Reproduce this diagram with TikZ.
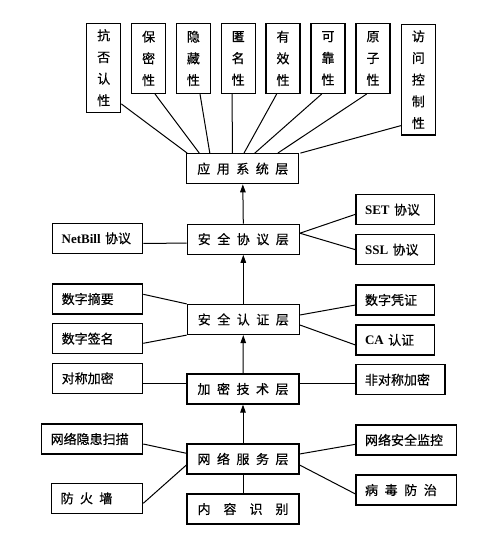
\documentclass[tikz,border=0pt]{standalone}
\usepackage{fontspec}
\setmainfont{Liberation Serif}
\newfontfamily\cjk[FakeBold=0.5]{Noto Sans CJK SC}
\usetikzlibrary{arrows.meta}
\newcommand{\gp}{\hspace{6.5pt}}
\newcommand{\lat}[1]{{\rmfamily\bfseries #1}}
\begin{document}
\begin{tikzpicture}[x=1pt,y=-1pt,
 bx/.style={draw, line width=1.2pt, inner sep=0pt, font=\cjk\fontsize{13}{21.7}\selectfont},
 topbox/.style={bx, minimum width=34pt, align=center},
 layer/.style={bx, minimum width=112pt, minimum height=30pt},
 sbox/.style={bx, minimum height=30pt, inner xsep=9pt, text width=#1, align=left},
 ln/.style={line width=1pt},
 ar/.style={line width=1pt, -{Triangle[length=8pt,width=5.5pt]}}]
\useasboundingbox (0,0) rectangle (500,538);

% top property boxes
\node[topbox, minimum height=89pt]    (t1) at (103.7,67.8) {抗\\否\\认\\性};
\node[topbox, minimum height=70pt]    (t2) at (148.6,58.4) {保\\密\\性};
\node[topbox, minimum height=70pt]    (t3) at (193.4,58.4) {隐\\藏\\性};
\node[topbox, minimum height=70pt]    (t4) at (238.2,58.4) {匿\\名\\性};
\node[topbox, minimum height=70pt]    (t5) at (283,58.4) {有\\效\\性};
\node[topbox, minimum height=70pt]    (t6) at (328,58.4) {可\\靠\\性};
\node[topbox, minimum height=70pt]    (t7) at (373,58.4) {原\\子\\性};
\node[topbox, minimum height=110.7pt] (t8) at (418.4,79.7) {访\\问\\控\\制\\性};

% layers
\node[layer] (app) at (242.8,168.7) {应\gp 用\gp 系\gp 统\gp 层};
\node[layer] (sp)  at (243.3,239.2) {安\gp 全\gp 协\gp 议\gp 层};
\node[layer] (rz)  at (243.3,319.5) {安\gp 全\gp 认\gp 证\gp 层};
\node[layer] (jm)  at (243,389) {加\gp 密\gp 技\gp 术\gp 层};
\node[layer] (wf)  at (243,459) {网\gp 络\gp 服\gp 务\gp 层};
\node[layer] (nr)  at (243,509) {内\hspace{13pt}容\hspace{13pt}识\hspace{13pt}别};

% left boxes
\node[sbox=72pt] (nb)  at (97.7,238.3) {\lat{NetBill} 协议};
\node[sbox=72pt] (dz)  at (97.7,299) {数字摘要};
\node[sbox=72pt] (dq)  at (97.7,338.7) {数字签名};
\node[sbox=72pt] (dc)  at (97.7,378.3) {对称加密};
\node[sbox=83pt] (ws)  at (92.2,439) {网络隐患扫描};
\node[sbox=73pt] (fhq) at (97.2,498.3) {防\hspace{6.3pt}火\hspace{6.3pt}墙};

% right boxes
\node[sbox=60.3pt] (set) at (395.2,209.7) {\lat{SET} 协议};
\node[sbox=60.3pt] (ssl) at (395.2,249.7) {\lat{SSL} 协议};
\node[sbox=60.3pt] (pz)  at (395.2,300) {数字凭证};
\node[sbox=60.3pt] (ca)  at (395.2,340) {\lat{CA} 认证};
\node[sbox=71pt]   (fdc) at (400.5,379.7) {非对称加密};
\node[sbox=82.7pt] (wa)  at (406.4,440) {网络安全监控};
\node[sbox=82.7pt] (bd)  at (406.4,490) {病\hspace{6.6pt}毒\hspace{6.6pt}防\hspace{6.6pt}治};

% top connectors
\draw[ln] ([yshift=9pt]t1.south east) -- ([xshift=1pt]app.north west);
\draw[ln] ([xshift=6.4pt]t2.south) -- ([xshift=-43.5pt]app.north);
\draw[ln] ([xshift=6.6pt]t3.south) -- ([xshift=-33pt]app.north);
\draw[ln] ([xshift=-6pt]t4.south) -- ([xshift=-10.5pt]app.north);
\draw[ln] ([xshift=-6.3pt]t5.south) -- ([xshift=1.2pt]app.north);
\draw[ln] ([xshift=-6.3pt]t6.south) -- ([xshift=12pt]app.north);
\draw[ln] ([xshift=-6.3pt]t7.south) -- ([xshift=35pt]app.north);
\draw[ln] ([yshift=10pt]t8.south west) -- ([xshift=1pt]app.north east);

% arrows between layers
\draw[ar] (sp.north) -- (app.south);
\draw[ar] (rz.north) -- (sp.south);
\draw[ar] (jm.north) -- (rz.south);
\draw[ar] (wf.north) -- (jm.south);
\draw[ln] (wf.south) -- (nr.north);

% side connectors
\draw[ln] ([yshift=-5pt]nb.east) -- ([yshift=-4pt]sp.west);
\draw[ln] ([yshift=6pt]sp.east) -- ([yshift=-4.6pt]set.west);
\draw[ln] ([yshift=6pt]sp.east) -- (ssl.west);

\draw[ln] ([yshift=4.7pt]dz.east) -- (rz.north west);
\draw[ln] ([yshift=-4.6pt]dq.east) -- (rz.south west);
\draw[ln] ([yshift=4.5pt]rz.east) -- ([yshift=-5pt]pz.west);
\draw[ln] ([yshift=-5.5pt]rz.east) -- ([yshift=-5pt]ca.west);

\draw[ln] ([yshift=-5pt]dc.east) -- ([yshift=5.7pt]jm.west);
\draw[ln] ([yshift=5.7pt]jm.east) -- ([yshift=-3.6pt]fdc.west);

\draw[ln] ([yshift=-5pt]ws.east) -- ([yshift=5.7pt]wf.west);
\draw[ln] ([yshift=-5pt]fhq.east) -- ([yshift=-6pt]wf.west);
\draw[ln] ([yshift=5pt]wf.east) -- ([yshift=-4.3pt]wa.west);
\draw[ln] ([yshift=-6pt]wf.east) -- ([yshift=-4pt]bd.west);
\end{tikzpicture}
\end{document}
